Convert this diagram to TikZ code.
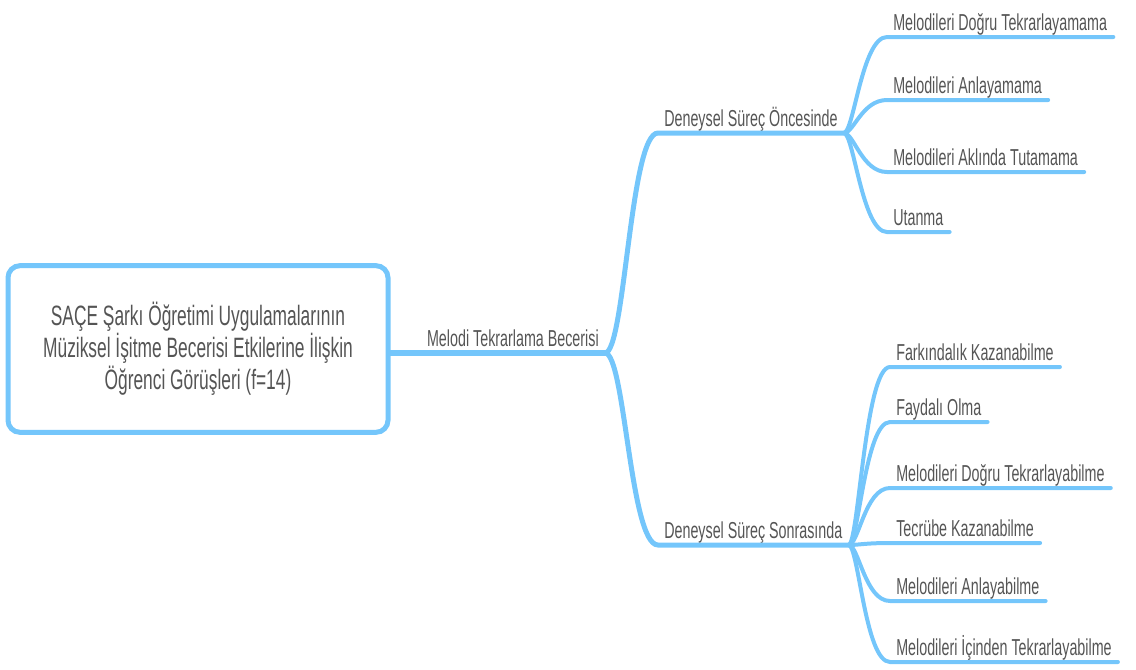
\documentclass[tikz,border=0pt]{standalone}
\usepackage{fontspec}
\setmainfont{Liberation Sans}[FakeStretch=0.62]
\usetikzlibrary{positioning}
\definecolor{mapblue}{HTML}{74C6FB}
\definecolor{maptext}{HTML}{555555}

\begin{document}
\begin{tikzpicture}[x=0.75pt, y=-0.75pt, every node/.style={align=center, text=maptext},
    rootbox/.style={draw=mapblue, line width=3.75pt, rounded corners=9pt, fill=white,
        minimum width=285pt, minimum height=125pt, font=\fontsize{21pt}{24pt}\selectfont},
    lbl/.style={anchor=south west, inner xsep=4.5pt, inner ysep=5pt, text depth=0pt,
        font=\fontsize{17.3pt}{20pt}\selectfont},
    mainline/.style={draw=mapblue, line width=4.5pt, line cap=round},
    subline/.style={draw=mapblue, line width=3.75pt, line cap=round},
    leafline/.style={draw=mapblue, line width=3pt, line cap=round}]
    \useasboundingbox (0,0) rectangle (1136,669);
    % Root box
    \node[rootbox] (root) at (198,349)
        {SAÇE Şarkı Öğretimi Uygulamalarının\\Müziksel İşitme Becerisi Etkilerine İlişkin\\Öğrenci Görüşleri (f=14)};
    % Main branch
    \coordinate (fork) at (605,353);
    \node[lbl, anchor=south east] (skill) at (fork) {Melodi Tekrarlama Becerisi};
    \draw[mainline] (fork -| root.east) -- (fork);
    % Sub branches
    \node[lbl] (pre) at (658,133) {Deneysel Süreç Öncesinde};
    \node[lbl] (post) at (658,545) {Deneysel Süreç Sonrasında};
    \draw[subline] (fork) .. controls +(20,0) and +(-28,0) .. (pre.south west) -- (pre.south east);
    \draw[subline] (fork) .. controls +(20,0) and +(-28,0) .. (post.south west) -- (post.south east);
    % Leaves before
    \node[lbl] (pre1) at (887,37) {Melodileri Doğru Tekrarlayamama};
    \node[lbl] (pre2) at (887,100) {Melodileri Anlayamama};
    \node[lbl] (pre3) at (887,172) {Melodileri Aklında Tutamama};
    \node[lbl] (pre4) at (887,232) {Utanma};
    \draw[leafline] (pre.south east) .. controls +(10,0) and +(-25,0) .. (pre1.south west) -- (pre1.south east);
    \draw[leafline] (pre.south east) .. controls +(10,0) and +(-25,0) .. (pre2.south west) -- (pre2.south east);
    \draw[leafline] (pre.south east) .. controls +(10,0) and +(-25,0) .. (pre3.south west) -- (pre3.south east);
    \draw[leafline] (pre.south east) .. controls +(10,0) and +(-25,0) .. (pre4.south west) -- (pre4.south east);
    % Leaves after
    \node[lbl] (post1) at (890,367) {Farkındalık Kazanabilme};
    \node[lbl] (post2) at (890,422) {Faydalı Olma};
    \node[lbl] (post3) at (890,488) {Melodileri Doğru Tekrarlayabilme};
    \node[lbl] (post4) at (890,543) {Tecrübe Kazanabilme};
    \node[lbl] (post5) at (890,601) {Melodileri Anlayabilme};
    \node[lbl] (post6) at (890,662) {Melodileri İçinden Tekrarlayabilme};
    \draw[leafline] (post.south east) .. controls +(10,0) and +(-25,0) .. (post1.south west) -- (post1.south east);
    \draw[leafline] (post.south east) .. controls +(10,0) and +(-25,0) .. (post2.south west) -- (post2.south east);
    \draw[leafline] (post.south east) .. controls +(10,0) and +(-25,0) .. (post3.south west) -- (post3.south east);
    \draw[leafline] (post.south east) .. controls +(10,0) and +(-25,0) .. (post4.south west) -- (post4.south east);
    \draw[leafline] (post.south east) .. controls +(10,0) and +(-25,0) .. (post5.south west) -- (post5.south east);
    \draw[leafline] (post.south east) .. controls +(10,0) and +(-25,0) .. (post6.south west) -- (post6.south east);
\end{tikzpicture}
\end{document}
